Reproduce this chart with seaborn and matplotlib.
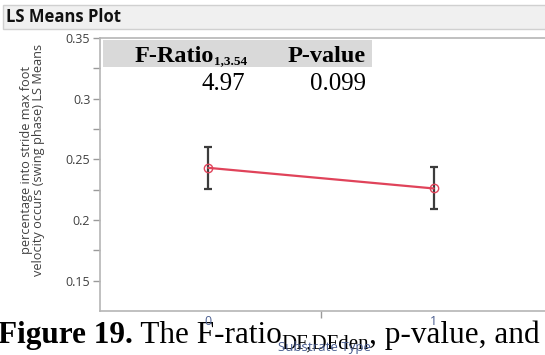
import matplotlib
matplotlib.use("Agg")
import matplotlib.pyplot as plt
import seaborn as sns
import pandas as pd
from matplotlib.patches import Rectangle
from matplotlib.ticker import FixedLocator

# LS means of the response by substrate type, with standard errors
substrate = [0, 1]
ls_means = [0.243, 0.226]
std_err = [0.0175, 0.0173]

y_ticks = [0.15, 0.2, 0.25, 0.3, 0.35]
y_tick_labels = ["0.15", "0.2", "0.25", "0.3", "0.35"]
x_tick_labels = ["0", "1"]

table_headers = ["F-Ratio", "P-value"]
f_ratio_df = "1,3.54"
table_values = ["4.97", "0.099"]

caption_parts = ["Figure 19.", " The F-ratio", "DF,DFden", ", p-value, and"]

W, H = 545, 355
sns.set_theme(style="white")
plt.rcParams["font.family"] = ["Open Sans", "DejaVu Sans"]
SERIF = "Liberation Serif"

fig = plt.figure(figsize=(W / 100, H / 100), dpi=100)
fig.patch.set_facecolor("white")
renderer = fig.canvas.get_renderer()


def fx(px):
    return px / W


def fy(py):
    return 1 - py / H


def chain_text(x, y, pieces, zorder):
    """Write pieces one after another on a shared baseline (pixel coords)."""
    for text, size, weight, dy in pieces:
        t = fig.text(fx(x), fy(y + dy), text, fontfamily=SERIF, fontsize=size,
                     fontweight=weight, ha="left", va="baseline",
                     color="black", zorder=zorder)
        x = t.get_window_extent(renderer).x1
    return x


# panel title bar
fig.patches.append(Rectangle((fx(3), fy(29)), fx(560), (29 - 5) / H,
                             transform=fig.transFigure, facecolor="#f0f0f0",
                             edgecolor="#d0d0d0", lw=1.0, zorder=1))
fig.text(fx(6), fy(17), "LS Means Plot", fontsize=12, fontweight="bold",
         color="#111111", va="center", ha="left", zorder=2)

ax = fig.add_axes([fx(100), fy(311), fx(548 - 100), (311 - 38) / H])
ax.set_facecolor("white")

df = pd.DataFrame({"Substrate Type": substrate, "LS Mean": ls_means})

ax.errorbar(df["Substrate Type"], df["LS Mean"], yerr=std_err, fmt="none",
            ecolor="#3c3c3c", elinewidth=1.6, capsize=3, capthick=1.6, zorder=2)
sns.lineplot(data=df, x="Substrate Type", y="LS Mean", ax=ax, color="#e0435a",
             linewidth=1.6, marker="o", markersize=6, markerfacecolor="none",
             markeredgecolor="#e0435a", markeredgewidth=1.0, zorder=3)

ax.set_xlim(-0.48, 1.507)
ax.set_ylim(0.125, 0.35)

for side in ["left", "top", "bottom"]:
    ax.spines[side].set_visible(True)
    ax.spines[side].set_color("#b5b5b5")
    ax.spines[side].set_linewidth(1.2)
ax.spines["right"].set_visible(False)

ax.set_yticks(y_ticks, y_tick_labels)
ax.yaxis.set_minor_locator(FixedLocator([0.175, 0.225, 0.275, 0.325]))
ax.tick_params(axis="y", which="both", direction="out", left=True,
               color="#9a9a9a", width=1, labelcolor="#404040", labelsize=9, pad=2)
ax.tick_params(axis="y", which="major", length=5)
ax.tick_params(axis="y", which="minor", length=5)

ax.set_xticks(substrate, x_tick_labels)
ax.xaxis.set_minor_locator(FixedLocator([0.5]))
ax.tick_params(axis="x", which="major", length=0, pad=3, labelsize=9,
               labelcolor="#4a5d8f")
ax.tick_params(axis="x", which="minor", bottom=True, length=5, width=1,
               color="#9a9a9a", direction="out")

ax.set_xlabel("Substrate Type", fontsize=9.5, color="#4a5d8f")
ax.xaxis.set_label_coords(0.5, -0.11)
ax.set_ylabel("percentage into stride max foot\nvelocity occurs (swing phase) LS Means",
              fontsize=9.2, color="#404040", linespacing=0.95)
ax.yaxis.set_label_coords(-0.122, 0.553)

# statistics table in the upper left corner
fig.patches.append(Rectangle((fx(103), fy(67)), fx(372 - 103), (67 - 40) / H,
                             transform=fig.transFigure, facecolor="#d9d9d9",
                             edgecolor="none", zorder=4))
probe = fig.text(0, 0, table_headers[0], fontfamily=SERIF, fontweight="bold",
                 fontsize=17.5)
sub_probe = fig.text(0, 0, f_ratio_df, fontfamily=SERIF, fontweight="bold",
                     fontsize=9.5)
w_head = probe.get_window_extent(renderer).width
w_sub = sub_probe.get_window_extent(renderer).width
probe.remove()
sub_probe.remove()
chain_text(247 - w_head - w_sub, 62,
           [(table_headers[0], 17.5, "bold", 0), (f_ratio_df, 9.5, "bold", 2)],
           zorder=5)
fig.text(fx(366), fy(62), table_headers[1], fontfamily=SERIF, fontweight="bold",
         fontsize=17.5, ha="right", va="baseline", color="black", zorder=5)
fig.text(fx(245), fy(90), table_values[0], fontfamily=SERIF, fontsize=18,
         ha="right", va="baseline", color="black", zorder=5)
fig.text(fx(366), fy(90), table_values[1], fontfamily=SERIF, fontsize=18,
         ha="right", va="baseline", color="black", zorder=5)

# figure caption running underneath the chart
chain_text(-2, 343,
           [(caption_parts[0], 22.5, "bold", 0),
            (caption_parts[1], 22.5, "normal", 0),
            (caption_parts[2], 15, "normal", 6),
            (caption_parts[3], 22.5, "normal", 0)],
           zorder=-1)

fig.savefig("out.png", dpi=100)
